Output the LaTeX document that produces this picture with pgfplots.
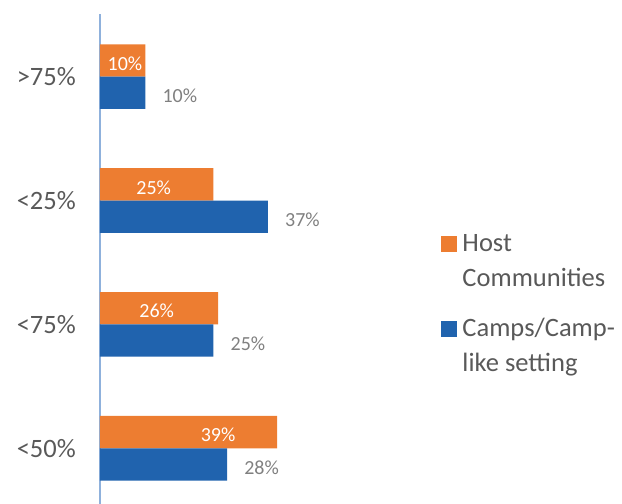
\documentclass[border=0pt]{standalone}
\usepackage{fontspec}
\setmainfont{Carlito}
\usepackage{pgfplots}
\pgfplotsset{compat=1.18}
\definecolor{orng}{HTML}{ED7D31}
\definecolor{blu}{HTML}{2063AE}
\definecolor{axblue}{HTML}{8FB1DC}
\definecolor{dgray}{HTML}{595959}
\definecolor{mgray}{HTML}{808080}
\begin{document}
\begin{tikzpicture}
\begin{axis}[
  at={(100pt,0pt)}, anchor=south west,
  scale only axis, width=317.8pt, height=490pt,
  xmin=0, xmax=70, ymin=-0.45, ymax=3.506,
  hide x axis,
  axis y line*=left,
  y axis line style={color=axblue, line width=1.8pt},
  ytick={0,1,2,3},
  yticklabels={{<50\%},{<75\%},{<25\%},{>75\%}},
  major tick length=0pt,
  yticklabel style={font=\fontsize{26.5}{32}\selectfont, text=dgray, anchor=east, inner sep=0pt, xshift=-24pt},
  legend style={draw=none, fill=none, at={(axis description cs:1.073,0.549)}, anchor=north west,
    inner sep=0pt, outer sep=0pt, row sep={85pt,between origins}, column sep=5.5pt,
    cells={anchor=base west, align=left},
    nodes={inner sep=0pt, outer sep=0pt, text=dgray, font=\fontsize{26.5}{34.7}\selectfont}},
  legend image code/.code={\fill[#1] (0pt,34.7pt) rectangle (16pt,50.7pt);},
]
\addplot[xbar, bar width=32.3pt, bar shift=16.15pt, fill=orng, draw=none]
  coordinates {(10,3) (25,2) (26,1) (39,0)};
\addlegendentry{Host\\Communities}
\addplot[xbar, bar width=32.3pt, bar shift=-16.15pt, fill=blu, draw=none,
  point meta=explicit symbolic, nodes near coords,
  nodes near coords style={anchor=west, inner sep=0pt, xshift=17pt, yshift=-19.15pt, text=mgray, font=\fontsize{20}{24}\selectfont}]
  coordinates {(10,3)[10\%] (37,2)[37\%] (25,1)[25\%] (28,0)[28\%]};
\addlegendentry{Camps/Camp-\\like setting}
\addplot[draw=none, mark=none, forget plot,
  point meta=explicit symbolic, nodes near coords,
  nodes near coords style={anchor=center, inner sep=0pt, yshift=13.15pt, text=white, font=\fontsize{20}{24}\selectfont}]
  coordinates {(5.5,3)[10\%] (11.83,2)[25\%] (12.49,1)[26\%] (26.0,0)[39\%]};
\end{axis}
\pgfresetboundingbox
\path (0pt,0pt) rectangle (622pt,504pt);
\end{tikzpicture}
\end{document}
